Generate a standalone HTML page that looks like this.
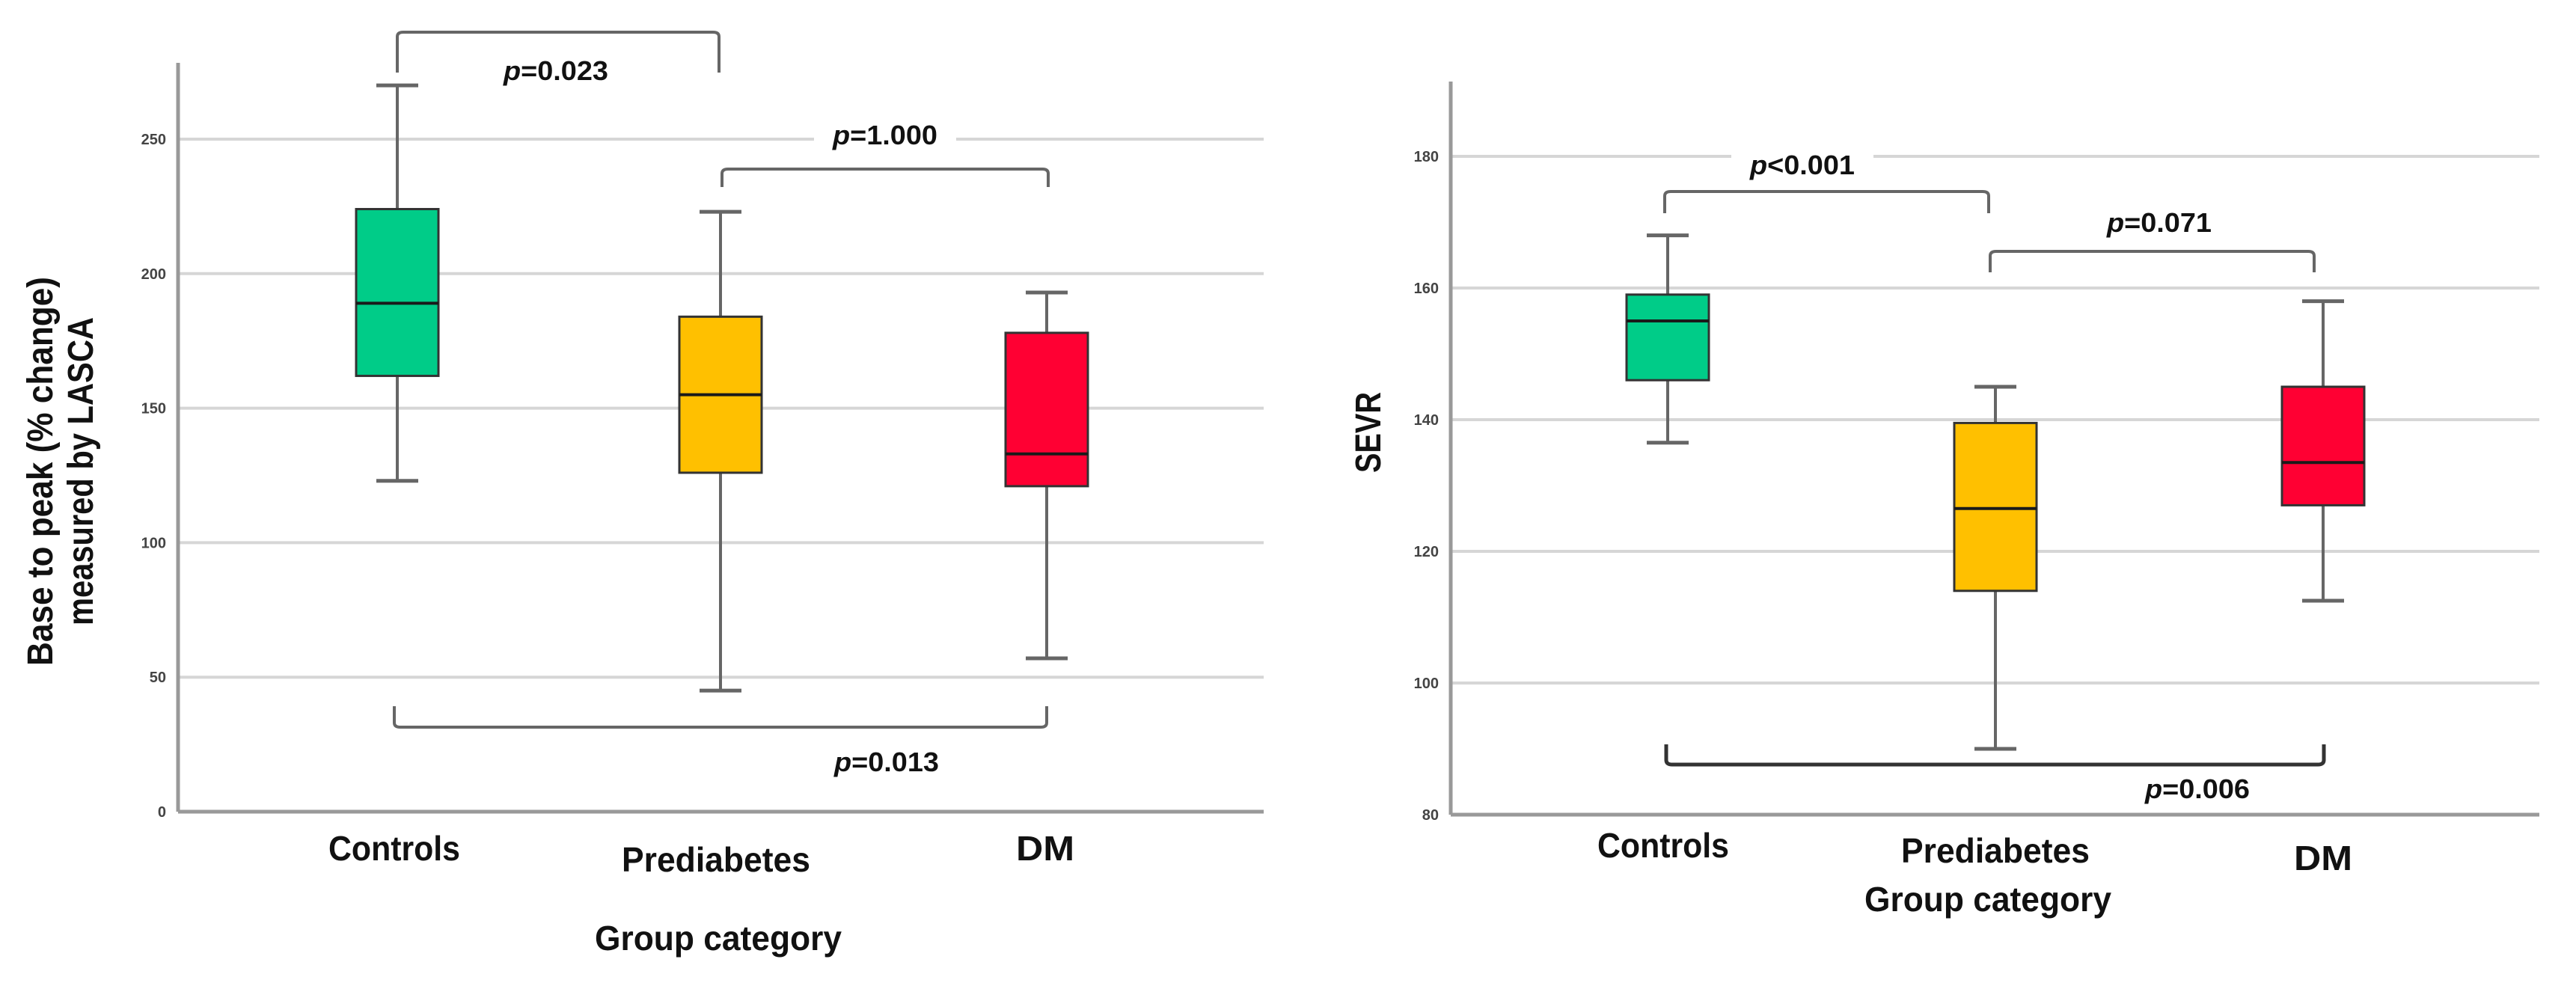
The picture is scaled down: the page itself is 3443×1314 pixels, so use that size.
<!DOCTYPE html>
<html><head><meta charset="utf-8"><style>
html,body{margin:0;padding:0;background:#fff;}
svg{display:block;font-family:"Liberation Sans",sans-serif;}
</style></head><body>
<svg id="chart" width="3443" height="1314" viewBox="0 0 3443 1314" xmlns="http://www.w3.org/2000/svg"></svg>
<script>
// ---- data ----
const categories = ["Controls", "Prediabetes", "DM"];
const colors = ["#00CC88", "#FFC000", "#FF0033"];
// Left chart: Base to peak (% change) measured by LASCA
const leftTicks = [0, 50, 100, 150, 200, 250];
const leftMin = [123, 45, 57];
const leftQ1 = [162, 126, 121];
const leftMedian = [189, 155, 133];
const leftQ3 = [224, 184, 178];
const leftMax = [270, 223, 193];
const leftPLabels = ["p=0.023", "p=1.000", "p=0.013"];
// Right chart: SEVR
const rightTicks = [80, 100, 120, 140, 160, 180];
const rightMin = [136.5, 90, 112.5];
const rightQ1 = [146, 114, 127];
const rightMedian = [155, 126.5, 133.5];
const rightQ3 = [159, 139.5, 145];
const rightMax = [168, 145, 158];
const rightPLabels = ["p<0.001", "p=0.071", "p=0.006"];

const NS = "http://www.w3.org/2000/svg";
const svg = document.getElementById("chart");
function mk(tag, attrs, parent, text) {
  const e = document.createElementNS(NS, tag);
  for (const k in attrs) e.setAttribute(k, attrs[k]);
  if (text !== undefined) e.textContent = text;
  (parent || svg).appendChild(e);
  return e;
}
function pText(g, label, x, y, size) {
  const t = mk("text", {x: x, y: y, "text-anchor": "middle", "font-size": size, "font-weight": "bold", fill: "#111", textLength: 140, lengthAdjust: "spacingAndGlyphs"}, g);
  mk("tspan", {"font-style": "italic"}, t, label[0]);
  mk("tspan", {}, t, label.slice(1));
  return t;
}

function drawChart(cfg) {
  const g = mk("g", {});
  
  
  const y = v => cfg.y0 - (v - cfg.vmin) * cfg.pxPerUnit;
  const x = i => cfg.xc[i];
  cfg.ticks.forEach((t, i) => {
    if (t !== cfg.vmin) {
      const gl = mk("line", {x1: cfg.axisX, x2: cfg.right, y1: y(t), y2: y(t), stroke: "#d6d6d6", "stroke-width": 4}, g);
      
      
    }
    const tl = mk("text", {x: cfg.axisX - 16, y: y(t) + 7, "text-anchor": "end", "font-size": 20, "font-weight": "bold", fill: "#444"}, g, String(t));
    
    
  });
  const ya = mk("line", {x1: cfg.axisX, x2: cfg.axisX, y1: cfg.top, y2: cfg.y0, stroke: "#999", "stroke-width": 5}, g);
  
  
  const xa = mk("line", {x1: cfg.axisX, x2: cfg.right, y1: cfg.y0, y2: cfg.y0, stroke: "#999", "stroke-width": 5}, g);
  
  
  categories.forEach((c, i) => {
    const bg = mk("g", {}, g);
    
    
    const cx = x(i), hw = cfg.boxW / 2, cw = 28;
    mk("line", {x1: cx, x2: cx, y1: y(cfg.max[i]), y2: y(cfg.q3[i]), stroke: "#666", "stroke-width": 4}, bg);
    mk("line", {x1: cx, x2: cx, y1: y(cfg.q1[i]), y2: y(cfg.min[i]), stroke: "#666", "stroke-width": 4}, bg);
    mk("line", {x1: cx - cw, x2: cx + cw, y1: y(cfg.max[i]), y2: y(cfg.max[i]), stroke: "#666", "stroke-width": 5}, bg);
    mk("line", {x1: cx - cw, x2: cx + cw, y1: y(cfg.min[i]), y2: y(cfg.min[i]), stroke: "#666", "stroke-width": 5}, bg);
    mk("rect", {x: cx - hw, y: y(cfg.q3[i]), width: cfg.boxW, height: y(cfg.q1[i]) - y(cfg.q3[i]), fill: colors[i], stroke: "#333", "stroke-width": 3}, bg);
    mk("line", {x1: cx - hw, x2: cx + hw, y1: y(cfg.median[i]), y2: y(cfg.median[i]), stroke: "#1a1a1a", "stroke-width": 4}, bg);
    const cl = mk("text", {x: cfg.labelX[i], y: cfg.labelY[i], "text-anchor": "middle", "font-size": 46, "font-weight": "bold", fill: "#111", textLength: cfg.labelW[i], lengthAdjust: "spacingAndGlyphs"}, g, c);
    
    
  });
  cfg.brackets.forEach((b, k) => {
    const bg = mk("g", {}, g);
    
    
    if (b.bg) mk("rect", {x: b.tx - 95, y: b.ty - 34, width: 190, height: 44, fill: "#fff"}, bg);
    const d = "M" + b.x1 + "," + b.yEnd + " L" + b.x1 + "," + (b.yBar + (b.up ? -6 : 6)) + " Q" + b.x1 + "," + b.yBar + " " + (b.x1 + 8) + "," + b.yBar +
      " L" + (b.x2 - 8) + "," + b.yBar + " Q" + b.x2 + "," + b.yBar + " " + b.x2 + "," + (b.yBar + (b.up ? -6 : 6)) + " L" + b.x2 + "," + b.yEnd;
    mk("path", {d: d, fill: "none", stroke: b.dark ? "#333" : "#666", "stroke-width": b.dark ? 5 : 4}, bg);
    pText(bg, cfg.pLabels[k], b.tx, b.ty, 36);
  });
  cfg.titles.forEach(t => {
    const tt = mk("text", {x: 0, y: 0, "text-anchor": "middle", "font-size": t.size, "font-weight": "bold", fill: "#111",
      transform: "translate(" + t.x + "," + t.y + ")" + (t.rot ? " rotate(-90)" : ""), textLength: t.w, lengthAdjust: "spacingAndGlyphs"}, g, t.text);
    
    
  });
}

drawChart({
  name: "left-chart", vmin: 0, y0: 1085, pxPerUnit: 3.596, top: 84, axisX: 238, right: 1689,
  xc: [531, 963, 1399], boxW: 110, ticks: leftTicks,
  min: leftMin, q1: leftQ1, median: leftMedian, q3: leftQ3, max: leftMax, pLabels: leftPLabels,
  labelX: [527, 957, 1397], labelY: [1150, 1165, 1150], labelW: [176, 252, 78],
  brackets: [
    {x1: 531, x2: 961, yBar: 43, yEnd: 97, up: false, tx: 743, ty: 107},
    {x1: 965, x2: 1401, yBar: 226, yEnd: 250, up: false, tx: 1183, ty: 193, bg: true},
    {x1: 527, x2: 1399, yBar: 972, yEnd: 944, up: true, tx: 1185, ty: 1031}
  ],
  titles: [
    {text: "Base to peak (% change)", x: 70, y: 630, rot: true, size: 48, w: 520, name: "y-axis-title-line1"},
    {text: "measured by LASCA", x: 124, y: 630, rot: true, size: 48, w: 412, name: "y-axis-title-line2"},
    {text: "Group category", x: 960, y: 1270, size: 46, w: 330, name: "x-axis-title"}
  ]
});
drawChart({
  name: "right-chart", vmin: 80, y0: 1089, pxPerUnit: 8.8, top: 109, axisX: 1939, right: 3394,
  xc: [2229, 2667, 3105], boxW: 110, ticks: rightTicks,
  min: rightMin, q1: rightQ1, median: rightMedian, q3: rightQ3, max: rightMax, pLabels: rightPLabels,
  labelX: [2223, 2667, 3105], labelY: [1146, 1153, 1163], labelW: [176, 252, 78],
  brackets: [
    {x1: 2225, x2: 2658, yBar: 256, yEnd: 285, up: false, tx: 2409, ty: 233, bg: true},
    {x1: 2660, x2: 3093, yBar: 336, yEnd: 364, up: false, tx: 2886, ty: 310},
    {x1: 2227, x2: 3106, yBar: 1022, yEnd: 995, up: true, tx: 2937, ty: 1067, dark: true}
  ],
  titles: [
    {text: "SEVR", x: 1845, y: 578, rot: true, size: 48, w: 108, name: "y-axis-title"},
    {text: "Group category", x: 2657, y: 1218, size: 46, w: 330, name: "x-axis-title"}
  ]
});
</script>
</body></html>
